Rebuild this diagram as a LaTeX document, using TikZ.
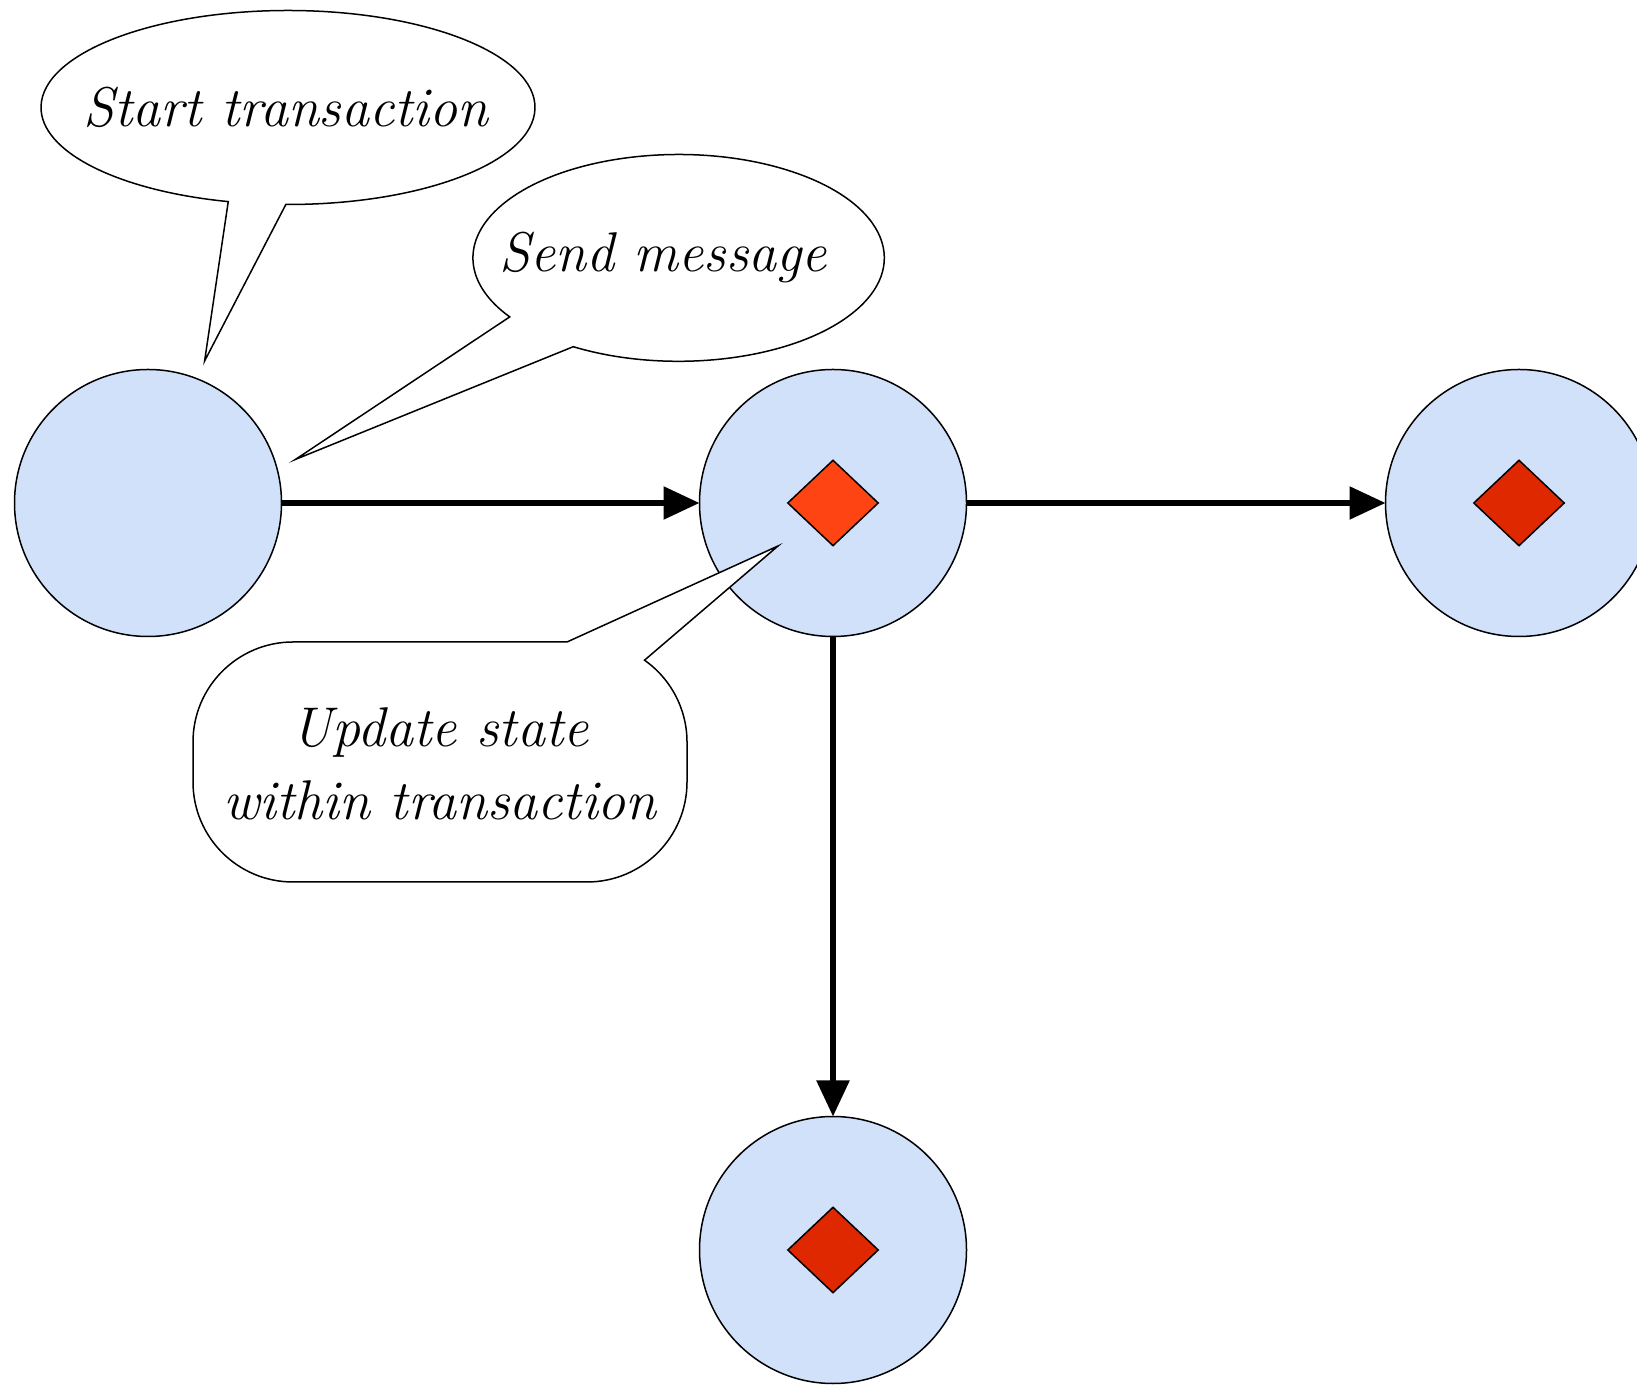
\documentclass[tikz,border=0pt]{standalone}
\usepackage{fontspec}
\usetikzlibrary{arrows.meta,calc,shapes.geometric}
\definecolor{nodefill}{RGB}{210,225,250}
\definecolor{diaA}{RGB}{255,68,20}
\definecolor{diaB}{RGB}{224,40,0}
\begin{document}
\begin{tikzpicture}[x=1pt,y=1pt,
  state/.style={circle, draw=black, line width=1.5pt, fill=nodefill, minimum size=267pt, inner sep=0pt, outer sep=0pt},
  token/.style={diamond, draw=black, line width=1.5pt, minimum width=91pt, minimum height=86pt, inner sep=0pt},
  flow/.style={line width=5.5pt, -{Triangle[length=36pt,width=32pt]}},
  callout/.style={draw=black, line width=1.5pt, fill=white, line join=miter},
  txt/.style={font=\fontsize{56}{73}\selectfont\itshape, inner sep=0pt}
]
\useasboundingbox (0,0) rectangle (1637,1384);
\fill[white] (0,0) rectangle (1637,1384);

\node[state] (s1) at (148,881) {};
\node[state] (s2) at (833,881) {};
\node[state] (s3) at (1519,881) {};
\node[state] (s4) at (833,134) {};

\node[token, fill=diaA] (d2) at (s2) {};
\node[token, fill=diaB] (d3) at (s3) {};
\node[token, fill=diaB] (d4) at (s4) {};

\draw[flow] (s1) -- (s2);
\draw[flow] (s2) -- (s3);
\draw[flow] (s2) -- (s4);

% callout 1
\coordinate (e1) at (288,1276.5);
\coordinate (tip1) at (204.6,1023);
\draw[callout] ($(e1)+(-90.5:247 and 97)$) arc[start angle=-90.5, end angle=256, x radius=247, y radius=97] -- (tip1) -- cycle;

% callout 2
\coordinate (e2) at (678.6,1126.1);
\coordinate (tip2) at (295.5,924.6);
\draw[callout] ($(e2)+(-120.8:205.7 and 103.4)$) arc[start angle=-120.8, end angle=214.8, x radius=205.7, y radius=103.4] -- (tip2) -- cycle;

% callout 3
\coordinate (tip3) at (778,838);
\draw[callout] (567,742) -- (tip3) -- (644.5,723.8) arc[start angle=54.9, end angle=0, radius=100] -- (687,602) arc[start angle=0, end angle=-90, radius=100] -- (293,502) arc[start angle=-90, end angle=-180, radius=100] -- (193,642) arc[start angle=180, end angle=90, radius=100] -- cycle;

\node[txt] (t1) at (286,1277) {Start transaction};
\node[txt] (t2) at (663,1126) {Send message};
\node[txt, align=center] (t3) at (440,620) {Update state\\within transaction};
\end{tikzpicture}
\end{document}
